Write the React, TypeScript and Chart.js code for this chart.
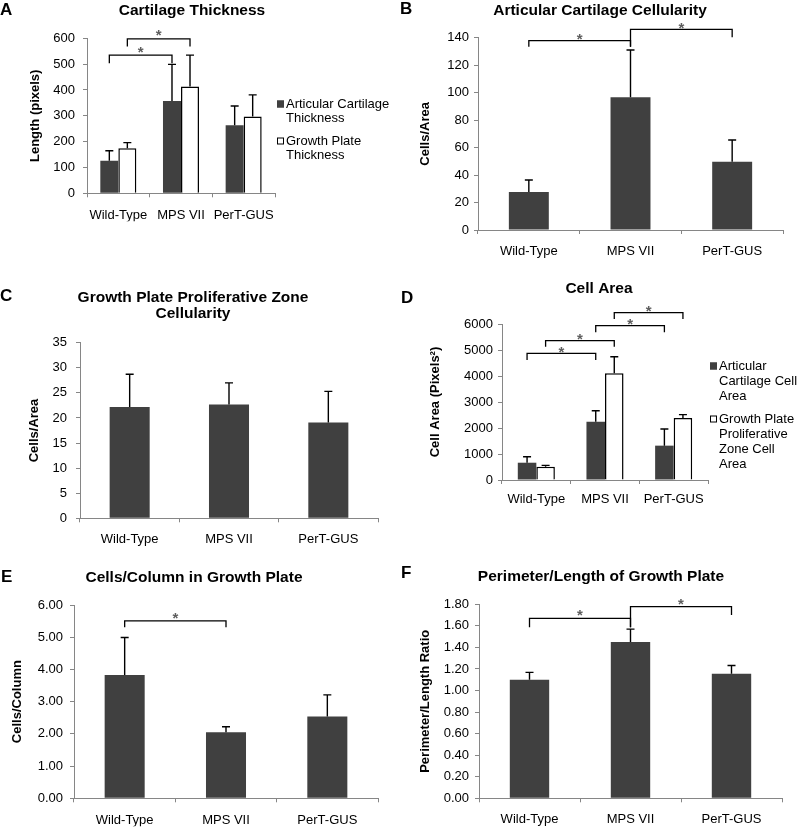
import React, { useEffect, useRef } from "react";
import { Chart, registerables } from "chart.js";

Chart.register(...registerables);

// ---------------- DATA ----------------
const CATEGORIES = ["Wild-Type", "MPS VII", "PerT-GUS"];

// A: Cartilage Thickness
const A_ARTICULAR = [126, 357, 263];
const A_ARTICULAR_SD = [39, 142, 75];
const A_GROWTH = [174, 413, 297];
const A_GROWTH_SD = [22, 122, 84];
const A_TICKS = [0, 100, 200, 300, 400, 500, 600];
const A_LEGEND = [["Articular Cartilage", "Thickness"], ["Growth Plate", "Thickness"]];
const A_BRACKETS = [
  { a: [0, 0], b: [1, 0], top: 535, endA: 503, endB: 503, star: 561 },
  { a: [0, 1], b: [1, 1], top: 598, endA: 568, endB: 568, star: 628 },
];

// B: Articular Cartilage Cellularity
const B_CELLULARITY = [27.7, 96.6, 49.7];
const B_SD = [8.7, 34.4, 15.8];
const B_TICKS = [0, 20, 40, 60, 80, 100, 120, 140];
const B_BRACKETS = [
  { a: [0, 0], b: [1, 0], top: 137.8, endA: 133.5, endB: 133.5, star: 142 },
  { a: [1, 0], b: [2, 0], top: 146.1, endA: 133.5, endB: 140.3, star: 149.7 },
];

// C: Growth Plate Proliferative Zone Cellularity
const C_CELLULARITY = [22.2, 22.7, 19.1];
const C_SD = [6.5, 4.3, 6.2];
const C_TICKS = [0, 5, 10, 15, 20, 25, 30, 35];

// D: Cell Area
const D_ARTICULAR = [665, 2242, 1321];
const D_ARTICULAR_SD = [231, 423, 641];
const D_GROWTH = [513, 4103, 2385];
const D_GROWTH_SD = [51, 639, 128];
const D_TICKS = [0, 1000, 2000, 3000, 4000, 5000, 6000];
const D_LEGEND = [["Articular", "Cartilage Cell", "Area"], ["Growth Plate", "Proliferative", "Zone Cell", "Area"]];
const D_BRACKETS = [
  { a: [0, 0], b: [1, 0], top: 4872, endA: 4615, endB: 4615, star: 5064 },
  { a: [0, 1], b: [1, 1], top: 5359, endA: 5128, endB: 5128, star: 5577 },
  { a: [1, 0], b: [2, 0], top: 5936, endA: 5679, endB: 5679, star: 6128 },
  { a: [1, 1], b: [2, 1], top: 6436, endA: 6192, endB: 6192, star: 6641 },
];

// E: Cells/Column in Growth Plate
const E_CELLS = [3.83, 2.05, 2.54];
const E_SD = [1.16, 0.17, 0.67];
const E_TICKS = [0, 1, 2, 3, 4, 5, 6];
const E_BRACKETS = [{ a: [0, 0], b: [1, 0], top: 5.51, endA: 5.31, endB: 5.31, star: 5.72 }];

// F: Perimeter/Length of Growth Plate
const F_RATIO = [1.1, 1.45, 1.155];
const F_SD = [0.068, 0.12, 0.077];
const F_TICKS = [0, 0.2, 0.4, 0.6, 0.8, 1.0, 1.2, 1.4, 1.6, 1.8];
const F_BRACKETS = [
  { a: [0, 0], b: [1, 0], top: 1.67, endA: 1.587, endB: 1.587, star: 1.732 },
  { a: [1, 0], b: [2, 0], top: 1.779, endA: 1.587, endB: 1.701, star: 1.84 },
];

// ---------------- STYLE ----------------
const FONT = '"Liberation Sans", Arial, Helvetica, sans-serif';
const DARK = "#404040";
const AXIS = "#868686";
const STAR = "#5e5e5e";

Chart.defaults.font.family = FONT;
Chart.defaults.color = "#000";

type Series = { label: string; data: number[]; sd: number[]; fill: string; border: string; bw: number };
type Bracket = { a: number[]; b: number[]; top: number; endA: number; endB: number; star: number };
type Cfg = {
  rect: { x: number; y: number; w: number; h: number };
  area: { left: number; top: number; right: number; bottom: number };
  series: Series[];
  ticks: number[];
  decimals: number;
  yTitle: string;
  yTitleX: number;
  tickPad: number;
  xLabelOff: number;
  catPct: number;
  brackets: Bracket[];
  legend?: { labels: string[][]; x: number; y: number; lineH: number; gap: number };
  letter: { text: string; x: number; base: number };
  title: { lines: string[]; cx: number; base: number; lineH: number };
};

const XH = 28;
const TL = 4;

function makeDecor(cfg: Cfg) {
  const ox = cfg.rect.x;
  const oy = cfg.rect.y;
  return {
    id: "decor",
    afterDatasetsDraw(chart: any) {
      const ctx = chart.ctx as CanvasRenderingContext2D;
      const ys = chart.scales.y;
      ctx.save();
      // error bars
      cfg.series.forEach((s, di) => {
        const meta = chart.getDatasetMeta(di);
        meta.data.forEach((el: any, i: number) => {
          const x = el.x;
          const y0 = ys.getPixelForValue(s.data[i]);
          const y1 = ys.getPixelForValue(s.data[i] + s.sd[i]);
          ctx.strokeStyle = "#000";
          ctx.lineWidth = 1.4;
          ctx.beginPath();
          ctx.moveTo(x, y0);
          ctx.lineTo(x, y1);
          ctx.moveTo(x - 4, y1);
          ctx.lineTo(x + 4, y1);
          ctx.stroke();
        });
      });
      // significance brackets
      cfg.brackets.forEach((br) => {
        const xa = chart.getDatasetMeta(br.a[1]).data[br.a[0]].x;
        const xb = chart.getDatasetMeta(br.b[1]).data[br.b[0]].x;
        const yt = ys.getPixelForValue(br.top);
        const ya = ys.getPixelForValue(br.endA);
        const yb = ys.getPixelForValue(br.endB);
        ctx.strokeStyle = "#000";
        ctx.lineWidth = 1.3;
        ctx.beginPath();
        ctx.moveTo(xa, ya);
        ctx.lineTo(xa, yt);
        ctx.lineTo(xb, yt);
        ctx.lineTo(xb, yb);
        ctx.stroke();
        const fs = 15;
        ctx.font = `bold ${fs}px ${FONT}`;
        ctx.fillStyle = STAR;
        ctx.textAlign = "center";
        ctx.textBaseline = "alphabetic";
        ctx.fillText("*", (xa + xb) / 2, ys.getPixelForValue(br.star) + 0.57 * fs);
      });
      ctx.restore();
    },
    afterDraw(chart: any) {
      const ctx = chart.ctx as CanvasRenderingContext2D;
      ctx.save();
      // panel letter
      ctx.fillStyle = "#000";
      ctx.font = `bold 17px ${FONT}`;
      ctx.textAlign = "left";
      ctx.textBaseline = "alphabetic";
      ctx.fillText(cfg.letter.text, cfg.letter.x - ox, cfg.letter.base - oy);
      // title
      ctx.font = `bold 15.5px ${FONT}`;
      ctx.textAlign = "center";
      cfg.title.lines.forEach((t, i) => {
        ctx.fillText(t, cfg.title.cx - ox, cfg.title.base - oy + i * cfg.title.lineH);
      });
      // legend
      if (cfg.legend) {
        const lg = cfg.legend;
        let y = lg.y - oy;
        ctx.font = `13px ${FONT}`;
        ctx.textAlign = "left";
        ctx.textBaseline = "middle";
        lg.labels.forEach((lines, i) => {
          const s = cfg.series[i];
          const bx = lg.x - ox;
          ctx.fillStyle = s.fill;
          ctx.fillRect(bx, y - 3.5, 7, 7);
          ctx.strokeStyle = s.bw > 0 ? s.border : s.fill;
          ctx.lineWidth = 1;
          ctx.strokeRect(bx + 0.5, y - 3.5 + 0.5, 6, 6);
          ctx.fillStyle = "#000";
          lines.forEach((ln, k) => {
            ctx.fillText(ln, bx + 9, y + k * lg.lineH);
          });
          y += (lines.length - 1) * lg.lineH + lg.gap;
        });
      }
      ctx.restore();
    },
  };
}

function buildConfig(cfg: Cfg): any {
  const yW = cfg.area.left - cfg.rect.x;
  const padTop = cfg.area.top - cfg.rect.y;
  const padRight = cfg.rect.x + cfg.rect.w - cfg.area.right;
  const padBottom = cfg.rect.y + cfg.rect.h - cfg.area.bottom - XH;
  const titleLH = 13 * 1.2;
  const xPad = cfg.xLabelOff - TL - (13 * 1.2) / 2;
  return {
    type: "bar",
    data: {
      labels: CATEGORIES,
      datasets: cfg.series.map((s) => ({
        label: s.label,
        data: s.data,
        backgroundColor: s.fill,
        borderColor: s.border,
        borderWidth: s.bw,
        categoryPercentage: cfg.catPct,
        barPercentage: 1,
      })),
    },
    options: {
      responsive: false,
      animation: false,
      events: [],
      layout: { padding: { left: 0, top: padTop, right: padRight, bottom: padBottom } },
      plugins: { legend: { display: false }, tooltip: { enabled: false }, title: { display: false } },
      scales: {
        x: {
          type: "category",
          offset: true,
          grid: { offset: true, drawOnChartArea: false, drawTicks: true, tickLength: TL, color: AXIS, lineWidth: 1 },
          border: { display: true, color: AXIS, width: 1 },
          ticks: { color: "#000", font: { size: 13, family: FONT }, padding: xPad, maxRotation: 0, autoSkip: false },
          afterFit: (s: any) => {
            s.height = XH;
          },
        },
        y: {
          type: "linear",
          min: cfg.ticks[0],
          max: cfg.ticks[cfg.ticks.length - 1],
          afterBuildTicks: (s: any) => {
            s.ticks = cfg.ticks.map((v) => ({ value: v }));
          },
          ticks: {
            color: "#000",
            font: { size: 13, family: FONT },
            padding: cfg.tickPad,
            callback: (v: any) => Number(v).toFixed(cfg.decimals),
          },
          grid: { drawOnChartArea: false, drawTicks: true, tickLength: TL, color: AXIS, lineWidth: 1 },
          border: { display: true, color: AXIS, width: 1 },
          title: {
            display: true,
            text: cfg.yTitle,
            color: "#000",
            font: { size: 13, weight: "bold", family: FONT },
            padding: { top: cfg.yTitleX - cfg.rect.x - titleLH / 2, bottom: 0 },
          },
          afterFit: (s: any) => {
            s.width = yW;
          },
        },
      },
    },
    plugins: [makeDecor(cfg)],
  };
}

function Panel({ cfg }: { cfg: Cfg }) {
  const ref = useRef<HTMLCanvasElement>(null);
  useEffect(() => {
    const chart = new Chart(ref.current as HTMLCanvasElement, buildConfig(cfg));
    return () => chart.destroy();
  }, []);
  return (
    <canvas
      ref={ref}
      width={cfg.rect.w}
      height={cfg.rect.h}
      style={{ position: "absolute", left: cfg.rect.x, top: cfg.rect.y, width: cfg.rect.w, height: cfg.rect.h }}
    />
  );
}

const darkSeries = (label: string, data: number[], sd: number[]): Series => ({
  label, data, sd, fill: DARK, border: DARK, bw: 0,
});
const whiteSeries = (label: string, data: number[], sd: number[]): Series => ({
  label, data, sd, fill: "#ffffff", border: "#000000", bw: 1.5,
});

const PANELS: Cfg[] = [
  {
    rect: { x: 0, y: 0, w: 400, h: 265 },
    area: { left: 87, top: 38.3, right: 275, bottom: 193.3 },
    series: [
      darkSeries("Articular Cartilage Thickness", A_ARTICULAR, A_ARTICULAR_SD),
      whiteSeries("Growth Plate Thickness", A_GROWTH, A_GROWTH_SD),
    ],
    ticks: A_TICKS, decimals: 0,
    yTitle: "Length (pixels)", yTitleX: 35.3, tickPad: 8, xLabelOff: 22.3, catPct: 0.575,
    brackets: A_BRACKETS,
    legend: { labels: A_LEGEND, x: 277, y: 104, lineH: 14, gap: 23 },
    letter: { text: "A", x: 0, base: 15 },
    title: { lines: ["Cartilage Thickness"], cx: 192, base: 15, lineH: 16.5 },
  },
  {
    rect: { x: 400, y: 0, w: 400, h: 265 },
    area: { left: 478, top: 37.7, right: 783, bottom: 230 },
    series: [darkSeries("Cells/Area", B_CELLULARITY, B_SD)],
    ticks: B_TICKS, decimals: 0,
    yTitle: "Cells/Area", yTitleX: 425, tickPad: 5, xLabelOff: 21.7, catPct: 0.393,
    brackets: B_BRACKETS,
    letter: { text: "B", x: 400, base: 14 },
    title: { lines: ["Articular Cartilage Cellularity"], cx: 600, base: 15, lineH: 16.5 },
  },
  {
    rect: { x: 0, y: 265, w: 400, h: 283 },
    area: { left: 80, top: 342.7, right: 378, bottom: 518.3 },
    series: [darkSeries("Cells/Area", C_CELLULARITY, C_SD)],
    ticks: C_TICKS, decimals: 0,
    yTitle: "Cells/Area", yTitleX: 34.7, tickPad: 9, xLabelOff: 21, catPct: 0.403,
    brackets: [],
    letter: { text: "C", x: 0, base: 300.5 },
    title: { lines: ["Growth Plate Proliferative Zone", "Cellularity"], cx: 193, base: 301.7, lineH: 16.6 },
  },
  {
    rect: { x: 400, y: 265, w: 400, h: 283 },
    area: { left: 502, top: 324, right: 708, bottom: 480 },
    series: [
      darkSeries("Articular Cartilage Cell Area", D_ARTICULAR, D_ARTICULAR_SD),
      whiteSeries("Growth Plate Proliferative Zone Cell Area", D_GROWTH, D_GROWTH_SD),
    ],
    ticks: D_TICKS, decimals: 0,
    yTitle: "Cell Area (Pixels²)", yTitleX: 435.5, tickPad: 5, xLabelOff: 19.5, catPct: 0.54,
    brackets: D_BRACKETS,
    legend: { labels: D_LEGEND, x: 710, y: 366, lineH: 15, gap: 23 },
    letter: { text: "D", x: 401, base: 303 },
    title: { lines: ["Cell Area"], cx: 599, base: 292.7, lineH: 16.5 },
  },
  {
    rect: { x: 0, y: 548, w: 400, h: 279 },
    area: { left: 74, top: 605, right: 378, bottom: 798.3 },
    series: [darkSeries("Cells/Column", E_CELLS, E_SD)],
    ticks: E_TICKS, decimals: 2,
    yTitle: "Cells/Column", yTitleX: 17.7, tickPad: 7, xLabelOff: 21.7, catPct: 0.395,
    brackets: E_BRACKETS,
    letter: { text: "E", x: 1, base: 581.7 },
    title: { lines: ["Cells/Column in Growth Plate"], cx: 194, base: 581.7, lineH: 16.5 },
  },
  {
    rect: { x: 400, y: 548, w: 400, h: 279 },
    area: { left: 479, top: 604.3, right: 782, bottom: 798.3 },
    series: [darkSeries("Perimeter/Length Ratio", F_RATIO, F_SD)],
    ticks: F_TICKS, decimals: 2,
    yTitle: "Perimeter/Length Ratio", yTitleX: 425.3, tickPad: 6, xLabelOff: 21, catPct: 0.39,
    brackets: F_BRACKETS,
    letter: { text: "F", x: 401, base: 578 },
    title: { lines: ["Perimeter/Length of Growth Plate"], cx: 601, base: 581, lineH: 16.5 },
  },
];

export default function App() {
  return (
    <div
      style={{
        position: "absolute",
        left: 0,
        top: 0,
        width: 800,
        height: 827,
        overflow: "hidden",
        background: "#ffffff",
      }}
    >
      {PANELS.map((p, i) => (
        <Panel key={i} cfg={p} />
      ))}
    </div>
  );
}
